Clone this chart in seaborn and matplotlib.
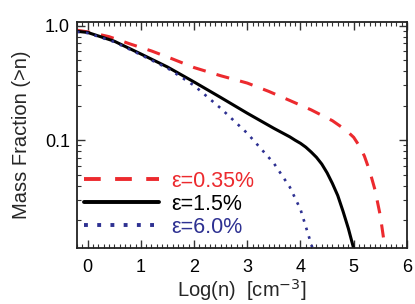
import numpy as np
import pandas as pd
import matplotlib
matplotlib.use("Agg")
import matplotlib.pyplot as plt
from matplotlib.ticker import FixedLocator, FuncFormatter, MultipleLocator, LogLocator, NullFormatter
import seaborn as sns

# ---- data ----
labels = ["ε=0.35%", "ε=1.5%", "ε=6.0%"]

x_red = [-0.2, 0.0, 0.4, 0.8, 1.2, 1.6, 2.0, 2.5, 3.0, 3.4, 3.8, 4.2, 4.6, 4.85, 5.0, 5.1, 5.2, 5.3, 5.4, 5.5, 5.6]
y_red = [0.91, 0.88, 0.80, 0.69, 0.60, 0.51, 0.43, 0.365, 0.315, 0.267, 0.222, 0.184, 0.148, 0.123, 0.106, 0.090, 0.073, 0.054, 0.037, 0.022, 0.0105]

x_black = [-0.2, 0.0, 0.5, 1.0, 1.5, 2.0, 2.5, 3.0, 3.5, 3.8, 3.9, 4.0, 4.1, 4.2, 4.3, 4.4, 4.5, 4.6, 4.7, 4.8, 4.9, 5.02]
y_black = [0.89, 0.87, 0.73, 0.565, 0.435, 0.322, 0.236, 0.172, 0.127, 0.107, 0.100, 0.094, 0.087, 0.079, 0.071, 0.062, 0.052, 0.042, 0.033, 0.024, 0.0170, 0.0105]

x_blue = [-0.2, 0.0, 0.5, 1.0, 1.5, 2.0, 2.5, 3.0, 3.5, 3.8, 4.0, 4.2, 4.25]
y_blue = [0.88, 0.86, 0.72, 0.555, 0.425, 0.300, 0.190, 0.115, 0.063, 0.039, 0.025, 0.0125, 0.0105]

x_ticks = [0, 1, 2, 3, 4, 5, 6]
y_ticks = [0.1, 1.0]

df = pd.concat([
    pd.DataFrame({"logn": x_red, "frac": y_red, "series": labels[0]}),
    pd.DataFrame({"logn": x_black, "frac": y_black, "series": labels[1]}),
    pd.DataFrame({"logn": x_blue, "frac": y_blue, "series": labels[2]}),
], ignore_index=True)

sns.set_theme(style="ticks")
plt.rcParams["font.family"] = ["Liberation Sans", "DejaVu Sans"]

fig = plt.figure(figsize=(4.15, 3.04), dpi=100)
ax = fig.add_axes([0.1855, 0.1842, 0.795, 0.743])

colors = ["#EC2A2E", "#000000", "#2E3192"]
palette = dict(zip(labels, colors))
dashes = {labels[0]: (4.3, 3.7), labels[1]: "", labels[2]: (1, 2.4)}

sns.lineplot(data=df, x="logn", y="frac", hue="series", style="series",
             palette=palette, dashes=dashes, sort=False, estimator=None,
             linewidth=2.2, legend=False, ax=ax)
lines = ax.get_lines()
lines[2].set_linewidth(1.9)
for ln in lines:
    ln.set_solid_joinstyle("round")

ax.set_yscale("log")
ax.set_xlim(-0.2, 6.0)
ax.set_ylim(0.0115, 1.07)

ax.xaxis.set_major_locator(FixedLocator(x_ticks))
ax.xaxis.set_minor_locator(MultipleLocator(0.1))
ax.yaxis.set_major_locator(FixedLocator(y_ticks))
ax.yaxis.set_major_formatter(FuncFormatter(lambda v, p: f"{v:.1f}"))
ax.yaxis.set_minor_locator(LogLocator(base=10, subs=np.arange(2, 10)))
ax.yaxis.set_minor_formatter(NullFormatter())

ax.tick_params(which="both", direction="in", top=True, right=True, colors="#333333",
               labelcolor="black")
ax.tick_params(which="major", length=6, width=1.0, labelsize=13)
ax.tick_params(which="minor", length=3, width=0.8)
ax.tick_params(axis="x", which="major", pad=8)
ax.tick_params(axis="y", which="major", pad=5)
for s in ax.spines.values():
    s.set_linewidth(1.3)
    s.set_color("#222222")

ax.set_xlabel("Log(n)  [cm$^{-3}$]", fontsize=14.5, labelpad=0.5)
ax.set_ylabel("Mass Fraction (>n)", fontsize=14.5, labelpad=10)

leg = ax.legend(lines[:3], labels, loc="lower left", bbox_to_anchor=(0.02, 0.045),
                frameon=False, fontsize=15.5, handlelength=3.5, handletextpad=0.55,
                labelspacing=0.1, borderpad=0.0, borderaxespad=0.0,
                labelcolor="linecolor")
for lh in leg.get_lines():
    lh.set_linewidth(2.8)

fig.savefig("out.png", dpi=100)
